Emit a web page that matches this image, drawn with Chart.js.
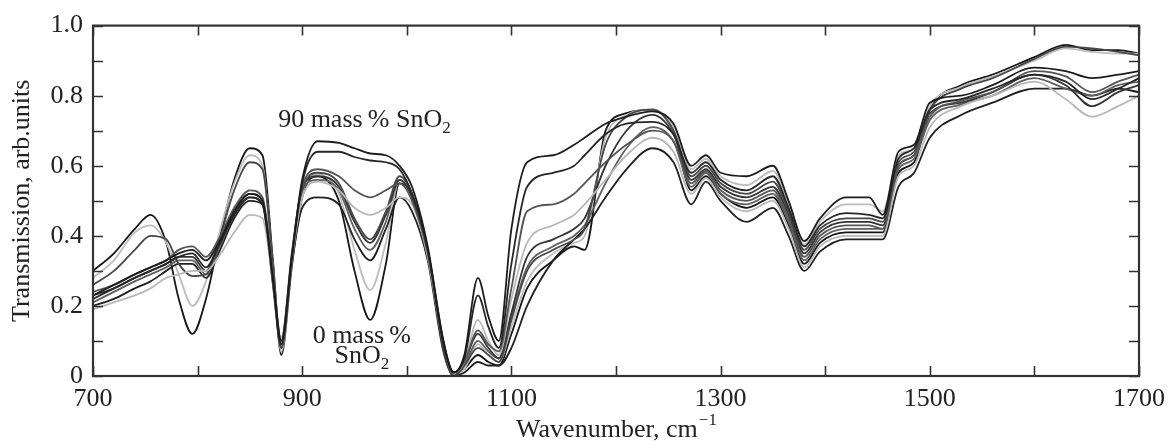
<!DOCTYPE html>
<html>
<head>
<meta charset="utf-8">
<script src="https://cdn.jsdelivr.net/npm/chart.js@4/dist/chart.umd.min.js"></script>
<style>
  html, body { margin: 0; padding: 0; background: #fff; }
  #wrap { width: 1173px; height: 441px; }
</style>
</head>
<body>
<div id="wrap"><canvas id="chart" width="1173" height="441"></canvas></div>
<script>
// wavenumber grid (cm^-1), shared by every spectrum
const wavenumbers = [700, 720, 740, 755, 770, 782, 795, 808, 820, 835, 850, 862, 872, 880, 890, 900, 915, 935, 950, 965,
    980, 993, 1005, 1020, 1035, 1045, 1055, 1068, 1078, 1088, 1100, 1115, 1140, 1160, 1170, 1190, 1210, 1235, 1255, 1272,
    1286, 1300, 1325, 1350, 1365, 1380, 1395, 1420, 1442, 1455, 1470, 1485, 1500, 1530, 1560, 1600, 1630, 1655, 1680, 1700];

// transmission, one array per sample (90 mass % SnO2 first ... 0 mass % SnO2 last)
const s1 = [0.23, 0.26, 0.29, 0.31, 0.33, 0.35, 0.36, 0.33, 0.38, 0.47, 0.52, 0.50, 0.28, 0.10, 0.34, 0.56, 0.67, 0.665, 0.65, 0.635,
    0.63, 0.60, 0.54, 0.37, 0.10, 0.01, 0.06, 0.28, 0.17, 0.10, 0.42, 0.61, 0.63, 0.66, 0.68, 0.72, 0.74, 0.755, 0.72, 0.60,
    0.63, 0.58, 0.57, 0.60, 0.50, 0.385, 0.45, 0.51, 0.51, 0.46, 0.64, 0.66, 0.78, 0.80, 0.83, 0.88, 0.87, 0.85, 0.86, 0.87];
const s2 = [0.22, 0.25, 0.28, 0.30, 0.32, 0.34, 0.35, 0.31, 0.37, 0.46, 0.51, 0.49, 0.27, 0.09, 0.33, 0.55, 0.64, 0.64, 0.625, 0.615,
    0.61, 0.59, 0.52, 0.36, 0.09, 0.01, 0.05, 0.23, 0.14, 0.08, 0.32, 0.54, 0.58, 0.60, 0.63, 0.69, 0.72, 0.725, 0.69, 0.58,
    0.61, 0.56, 0.53, 0.57, 0.48, 0.37, 0.43, 0.465, 0.46, 0.45, 0.62, 0.65, 0.76, 0.79, 0.82, 0.86, 0.84, 0.79, 0.82, 0.85];
const s3 = [0.24, 0.26, 0.29, 0.31, 0.33, 0.36, 0.37, 0.34, 0.39, 0.48, 0.53, 0.51, 0.29, 0.10, 0.35, 0.54, 0.59, 0.57, 0.53, 0.51,
    0.53, 0.55, 0.50, 0.35, 0.09, 0.01, 0.04, 0.13, 0.09, 0.07, 0.25, 0.47, 0.49, 0.52, 0.55, 0.61, 0.66, 0.70, 0.67, 0.55,
    0.585, 0.53, 0.50, 0.53, 0.45, 0.34, 0.40, 0.43, 0.43, 0.42, 0.60, 0.63, 0.74, 0.785, 0.81, 0.87, 0.855, 0.81, 0.84, 0.86];
const s4 = [0.19, 0.21, 0.23, 0.25, 0.28, 0.29, 0.30, 0.30, 0.34, 0.41, 0.46, 0.45, 0.27, 0.11, 0.33, 0.51, 0.555, 0.53, 0.48, 0.46,
    0.48, 0.51, 0.49, 0.34, 0.09, 0.01, 0.04, 0.16, 0.10, 0.06, 0.22, 0.38, 0.43, 0.46, 0.49, 0.56, 0.63, 0.68, 0.64, 0.52,
    0.565, 0.51, 0.47, 0.50, 0.42, 0.31, 0.37, 0.40, 0.40, 0.40, 0.57, 0.60, 0.71, 0.77, 0.80, 0.84, 0.79, 0.74, 0.77, 0.80];
const s5 = [0.26, 0.30, 0.36, 0.40, 0.39, 0.32, 0.285, 0.29, 0.38, 0.53, 0.61, 0.59, 0.32, 0.08, 0.33, 0.53, 0.58, 0.55, 0.45, 0.39,
    0.47, 0.57, 0.52, 0.36, 0.09, 0.0, 0.03, 0.08, 0.06, 0.04, 0.16, 0.30, 0.36, 0.39, 0.42, 0.66, 0.74, 0.76, 0.70, 0.57,
    0.60, 0.55, 0.52, 0.555, 0.47, 0.36, 0.42, 0.45, 0.45, 0.44, 0.61, 0.64, 0.76, 0.82, 0.85, 0.905, 0.94, 0.935, 0.925, 0.915];
const s6 = [0.23, 0.25, 0.28, 0.30, 0.32, 0.34, 0.34, 0.30, 0.37, 0.47, 0.52, 0.50, 0.28, 0.09, 0.34, 0.54, 0.57, 0.54, 0.44, 0.38,
    0.46, 0.56, 0.51, 0.35, 0.08, 0.0, 0.04, 0.12, 0.08, 0.05, 0.18, 0.34, 0.39, 0.42, 0.45, 0.60, 0.70, 0.745, 0.69, 0.56,
    0.59, 0.54, 0.51, 0.54, 0.46, 0.35, 0.41, 0.44, 0.44, 0.43, 0.60, 0.63, 0.75, 0.78, 0.81, 0.86, 0.83, 0.77, 0.81, 0.83];
const s7 = [0.21, 0.24, 0.27, 0.29, 0.31, 0.33, 0.33, 0.29, 0.36, 0.46, 0.51, 0.49, 0.27, 0.09, 0.33, 0.53, 0.56, 0.53, 0.42, 0.36,
    0.44, 0.56, 0.51, 0.35, 0.08, 0.0, 0.03, 0.10, 0.07, 0.05, 0.17, 0.31, 0.37, 0.40, 0.43, 0.55, 0.65, 0.71, 0.67, 0.54,
    0.58, 0.52, 0.49, 0.52, 0.44, 0.33, 0.39, 0.42, 0.42, 0.42, 0.59, 0.62, 0.73, 0.775, 0.80, 0.85, 0.82, 0.80, 0.83, 0.84];
const s8 = [0.20, 0.22, 0.25, 0.27, 0.30, 0.32, 0.32, 0.28, 0.35, 0.45, 0.50, 0.49, 0.26, 0.08, 0.32, 0.48, 0.51, 0.49, 0.39, 0.33,
    0.42, 0.51, 0.47, 0.33, 0.07, 0.0, 0.01, 0.04, 0.03, 0.03, 0.08, 0.20, 0.33, 0.39, 0.42, 0.51, 0.59, 0.65, 0.61, 0.49,
    0.555, 0.50, 0.44, 0.48, 0.40, 0.30, 0.355, 0.39, 0.39, 0.39, 0.54, 0.58, 0.68, 0.745, 0.78, 0.82, 0.82, 0.80, 0.82, 0.81];
const s9 = [0.28, 0.33, 0.41, 0.43, 0.38, 0.29, 0.20, 0.27, 0.40, 0.55, 0.63, 0.60, 0.31, 0.07, 0.32, 0.52, 0.575, 0.52, 0.36, 0.245,
    0.38, 0.56, 0.52, 0.35, 0.09, 0.0, 0.02, 0.09, 0.06, 0.04, 0.14, 0.27, 0.35, 0.38, 0.40, 0.68, 0.745, 0.76, 0.71, 0.59,
    0.62, 0.57, 0.545, 0.585, 0.49, 0.375, 0.44, 0.49, 0.49, 0.47, 0.63, 0.65, 0.77, 0.825, 0.855, 0.90, 0.935, 0.925, 0.92, 0.92];
const s10 = [0.30, 0.35, 0.42, 0.46, 0.38, 0.22, 0.12, 0.22, 0.38, 0.56, 0.65, 0.63, 0.33, 0.06, 0.31, 0.51, 0.57, 0.50, 0.30, 0.16,
    0.32, 0.55, 0.52, 0.36, 0.10, 0.0, 0.02, 0.06, 0.04, 0.03, 0.12, 0.25, 0.33, 0.37, 0.36, 0.70, 0.75, 0.76, 0.70, 0.53,
    0.57, 0.52, 0.48, 0.51, 0.43, 0.32, 0.38, 0.41, 0.41, 0.41, 0.58, 0.61, 0.76, 0.83, 0.86, 0.91, 0.945, 0.93, 0.93, 0.92];

const series = [s1, s2, s3, s4, s5, s6, s7, s8, s9, s10];
const lineColors = ['#1c1c1c', '#262626', '#555555', '#b8b8b8', '#474747', '#333333', '#606060', '#202020', '#bdbdbd', '#161616'];

const serif = '"Liberation Serif", "Times New Roman", serif';
const inkColor = '#222';

// inner tick marks, frame, axis titles and the two labels
const framePlugin = {
    id: 'frame',
    afterDraw(chart) {
        const ctx = chart.ctx;
        const a = chart.chartArea;
        const xs = chart.scales.x, ys = chart.scales.y;
        const tick = 10;
        ctx.save();
        ctx.strokeStyle = '#333';
        ctx.lineWidth = 1.6;
        ctx.beginPath();
        xs.ticks.forEach(t => {
            const px = Math.round(xs.getPixelForValue(t.value)) + 0.5;
            ctx.moveTo(px, a.bottom); ctx.lineTo(px, a.bottom - tick);
            ctx.moveTo(px, a.top); ctx.lineTo(px, a.top + tick);
        });
        ys.ticks.forEach(t => {
            const py = Math.round(ys.getPixelForValue(t.value)) + 0.5;
            ctx.moveTo(a.left, py); ctx.lineTo(a.left + tick, py);
            ctx.moveTo(a.right, py); ctx.lineTo(a.right - tick, py);
        });
        ctx.stroke();
        ctx.lineWidth = 2.2;
        ctx.strokeRect(a.left, a.top, a.right - a.left, a.bottom - a.top);

        ctx.fillStyle = inkColor;
        ctx.textBaseline = 'alphabetic';
        const big = '26px ' + serif, small = '17px ' + serif;

        // x title with superscript
        ctx.font = big;
        const main = 'Wavenumber, cm';
        const wMain = ctx.measureText(main).width;
        ctx.font = small;
        const sup = '\u22121';
        const wSup = ctx.measureText(sup).width;
        const cx = (a.left + a.right) / 2;
        let x0 = cx - (wMain + wSup) / 2;
        ctx.font = big;
        ctx.textAlign = 'left';
        ctx.fillText(main, x0, 437);
        ctx.font = small;
        ctx.fillText(sup, x0 + wMain + 1, 425);

        // y title
        ctx.save();
        ctx.translate(22, (a.top + a.bottom) / 2);
        ctx.rotate(-Math.PI / 2);
        ctx.font = big;
        ctx.textAlign = 'center';
        ctx.textBaseline = 'middle';
        ctx.fillText('Transmission, arb.units', 0, 0);
        ctx.restore();

        // labels with subscript 2
        const label = (text, wn, tr, align) => {
            ctx.font = big;
            const w1 = ctx.measureText(text).width;
            ctx.font = small;
            const w2 = ctx.measureText('2').width;
            let lx = xs.getPixelForValue(wn);
            if (align === 'center') lx -= (w1 + w2) / 2;
            const ly = ys.getPixelForValue(tr);
            ctx.textAlign = 'left';
            ctx.font = big;
            ctx.fillText(text, lx, ly);
            ctx.font = small;
            ctx.fillText('2', lx + w1, ly + 6);
        };
        label('90 mass\u2009% SnO', 877, 0.712, 'left');
        ctx.font = big;
        ctx.textAlign = 'center';
        ctx.fillText('0 mass\u2009%', xs.getPixelForValue(957), ys.getPixelForValue(0.094));
        label('SnO', 957, 0.037, 'center');
        ctx.restore();
    }
};

new Chart(document.getElementById('chart').getContext('2d'), {
    type: 'line',
    data: {
        datasets: series.map((s, i) => ({
            data: wavenumbers.map((w, j) => ({ x: w, y: s[j] })),
            borderColor: lineColors[i],
            borderWidth: 1.8,
            pointRadius: 0,
            fill: false,
            cubicInterpolationMode: 'monotone',
        })),
    },
    options: {
        responsive: false,
        animation: false,
        devicePixelRatio: 1,
        layout: { padding: { left: 0, right: 31, top: 23, bottom: 0 } },
        plugins: { legend: { display: false }, tooltip: { enabled: false } },
        scales: {
            x: {
                type: 'linear',
                min: 700,
                max: 1700,
                grid: { display: false, drawTicks: false },
                border: { display: false },
                afterFit: scale => { scale.height = 65; },
                ticks: {
                    stepSize: 100,
                    padding: 8,
                    color: inkColor,
                    font: { family: serif, size: 26 },
                    maxRotation: 0,
                    autoSkip: false,
                    callback: v => ((v - 700) % 200 === 0 ? String(v) : ''),
                },
            },
            y: {
                min: 0,
                max: 1,
                grid: { display: false, drawTicks: false },
                border: { display: false },
                afterFit: scale => { scale.width = 93; },
                ticks: {
                    stepSize: 0.1,
                    padding: 10,
                    color: inkColor,
                    font: { family: serif, size: 26 },
                    autoSkip: false,
                    callback: v => {
                        const k = Math.round(v * 10);
                        if (k % 2 !== 0) return '';
                        return k === 0 ? '0' : (k / 10).toFixed(1);
                    },
                },
            },
        },
    },
    plugins: [framePlugin],
});
</script>
</body>
</html>
